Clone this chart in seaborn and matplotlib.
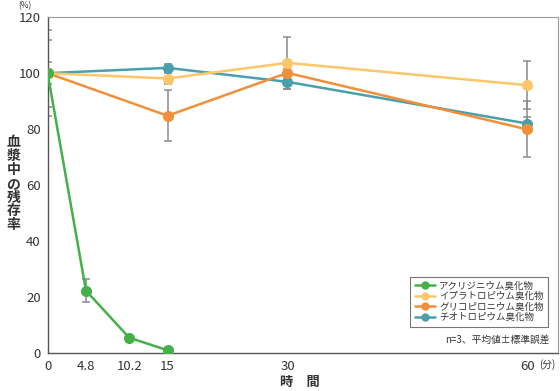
import pandas as pd
import seaborn as sns
import matplotlib.pyplot as plt
from matplotlib.lines import Line2D

# values (minutes vs % remaining)
times = [0, 4.8, 10.2, 15, 30, 60]
names = ['アクリジニウム臭化物', 'イプラトロピウム臭化物', 'グリコピロニウム臭化物', 'チオトロピウム臭化物']
colors = ['#45b04a', '#fcc76b', '#f18f3b', '#4b9eab']

acl_t = [0, 4.8, 10.2, 15]
acl_v = [100, 22.3, 5.5, 1.0]
acl_e = [1, 4, 0.5, 0.5]

ipr_t = [0, 15, 30, 60]
ipr_v = [100, 98.1, 103.7, 95.7]
ipr_e = [12, 2, 9.3, 8.6]

gly_t = [0, 15, 30, 60]
gly_v = [100, 84.8, 100.1, 79.9]
gly_e = [15.4, 9.2, 1.5, 10]

tio_t = [0, 15, 30, 60]
tio_v = [100, 101.9, 96.9, 82.0]
tio_e = [4, 1.5, 2.6, 2.2]

series = [(acl_t, acl_v, acl_e), (ipr_t, ipr_v, ipr_e), (gly_t, gly_v, gly_e), (tio_t, tio_v, tio_e)]

sns.set_style('white')
plt.rcParams['font.family'] = ['Noto Sans CJK JP', 'DejaVu Sans']

fig = plt.figure(figsize=(5.6, 3.91), dpi=100)
ax = fig.add_axes([0.085, 0.097, 0.911, 0.859])

# error bars first, in grey
for t, v, e in series:
    ax.errorbar(t, v, yerr=e, fmt='none', ecolor='#8a8a8a', elinewidth=1.1,
                capsize=3, capthick=1.1, zorder=1)

# draw order: teal, orange, yellow, green (green on top)
for i in [3, 2, 1, 0]:
    t, v, e = series[i]
    df = pd.DataFrame({'time': t, 'value': v})
    sns.lineplot(data=df, x='time', y='value', color=colors[i], marker='o',
                 markersize=8, markeredgewidth=0, linewidth=1.8, ax=ax, zorder=2 + (3 - i))

ax.set_xlim(0, 63.8)
ax.set_ylim(0, 120)
ax.set_xticks(times)
ax.set_xticklabels(['0', '4.8', '10.2', '15', '30', '60'])
ax.set_yticks([0, 20, 40, 60, 80, 100, 120])
ax.tick_params(axis='both', direction='out', length=3, width=0.8, color='#555555',
               labelsize=9.5, labelcolor='#333333', pad=2)
ax.set_xlabel('')
ax.set_ylabel('')

for side in ['left', 'bottom']:
    ax.spines[side].set_color('#555555')
    ax.spines[side].set_linewidth(1.0)
for side in ['top', 'right']:
    ax.spines[side].set_color('#9a9a9a')
    ax.spines[side].set_linewidth(0.8)

fig.text(0.045, 0.998, '(%)', fontsize=6, color='#333333', ha='center', va='top')
fig.text(0.978, 0.067, '(分)', fontsize=7, color='#333333', ha='center', va='center')
fig.text(0.024, 0.53, '\n'.join('血漿中の残存率'), fontsize=10, fontweight='bold',
         color='#333333', ha='center', va='center', linespacing=0.98)
fig.text(0.535, 0.022, '時　間', fontsize=9.5, fontweight='bold', color='#333333',
         ha='center', va='center')

handles = [Line2D([0], [0], color=c, marker='o', markersize=6, markeredgewidth=0, linewidth=1.8)
           for c in colors]
leg = ax.legend(handles, names, loc='lower right', bbox_to_anchor=(0.99, 0.065),
                fontsize=6.8, frameon=True, fancybox=False, handlelength=2.2,
                handletextpad=0.4, borderpad=0.45, labelspacing=0.15)
leg.get_frame().set_edgecolor('#555555')
leg.get_frame().set_linewidth(0.8)
for txt in leg.get_texts():
    txt.set_color('#333333')

ax.text(0.985, 0.025, 'n=3、平均値±標準誤差', transform=ax.transAxes, fontsize=7,
        color='#333333', ha='right', va='bottom')

fig.savefig('out.png', dpi=100)
